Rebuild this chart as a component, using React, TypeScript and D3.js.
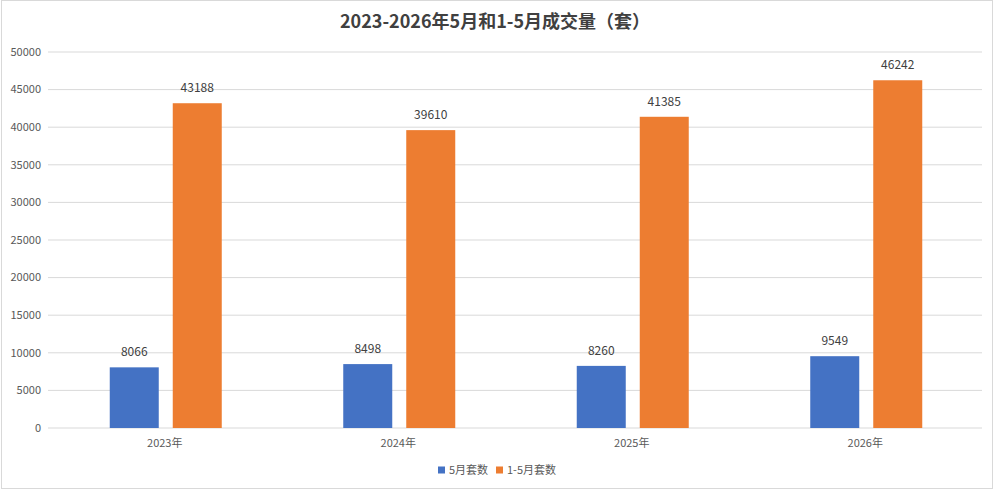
import { useEffect, useRef } from 'react';
import * as d3 from 'd3';

const categories = ['2023年', '2024年', '2025年', '2026年'];
const seriesNames = ['5月套数', '1-5月套数'];
const mayValues = [8066, 8498, 8260, 9549];
const janToMayValues = [43188, 39610, 41385, 46242];
const yTicks = [0, 5000, 10000, 15000, 20000, 25000, 30000, 35000, 40000, 45000, 50000];
const colors = ['#4472C4', '#ED7D31'];

const FONT = '"Noto Sans CJK SC", "Noto Sans", sans-serif';

export default function App() {
  const svgRef = useRef<SVGSVGElement>(null);

  useEffect(() => {
    document.body.style.margin = '0';
    const W = 997;
    const H = 491;
    const svg = d3.select(svgRef.current);
    svg.selectAll('*').remove();
    svg.attr('width', W).attr('height', H).attr('viewBox', `0 0 ${W} ${H}`);

    svg.append('rect').attr('width', W).attr('height', H).attr('fill', '#fff');
    // faint frame
    svg.append('rect')
      .attr('x', 1.5).attr('y', 0.5).attr('width', 991).attr('height', 488)
      .attr('fill', 'none').attr('stroke', '#d9d9d9');

    const left = 48;
    const right = 982;
    const top = 52;
    const bottom = 428;

    const x = d3.scaleBand<string>().domain(categories).range([left, right]);
    const y = d3.scaleLinear().domain([0, 50000]).range([bottom, top]);

    // grid
    svg.append('g')
      .selectAll('line')
      .data(yTicks)
      .join('line')
      .attr('x1', left).attr('x2', right)
      .attr('y1', d => y(d)).attr('y2', d => y(d))
      .attr('stroke', '#d9d9d9').attr('stroke-width', 1);

    // y labels
    svg.append('g')
      .selectAll('text')
      .data(yTicks)
      .join('text')
      .attr('x', 41)
      .attr('y', d => y(d))
      .attr('dy', '0.35em')
      .attr('text-anchor', 'end')
      .attr('font-family', FONT)
      .attr('font-size', 11)
      .attr('fill', '#595959')
      .text(d => String(d));

    const rows = categories.map((c, i) => ({ cat: c, values: [mayValues[i], janToMayValues[i]] }));

    const groups = svg.append('g')
      .selectAll('g')
      .data(rows)
      .join('g');

    groups.each(function (row) {
      const cx = (x(row.cat) ?? 0) + x.bandwidth() / 2 + 1;
      const sub = d3.scaleBand<string>()
        .domain(seriesNames)
        .range([cx - 56, cx + 56])
        .paddingInner(14 / 63);
      const g = d3.select(this);
      const items = seriesNames.map((s, k) => ({ s, v: row.values[k], color: colors[k] }));
      g.selectAll('rect')
        .data(items)
        .join('rect')
        .attr('x', d => sub(d.s) ?? 0)
        .attr('y', d => y(d.v))
        .attr('width', sub.bandwidth())
        .attr('height', d => bottom - y(d.v))
        .attr('fill', d => d.color);
      g.selectAll('text')
        .data(items)
        .join('text')
        .attr('x', d => (sub(d.s) ?? 0) + sub.bandwidth() / 2)
        .attr('y', d => y(d.v) - 11)
        .attr('text-anchor', 'middle')
        .attr('font-family', FONT)
        .attr('font-size', 12)
        .attr('fill', '#404040')
        .text(d => String(d.v));
    });

    // x labels
    svg.append('g')
      .selectAll('text')
      .data(categories)
      .join('text')
      .attr('x', d => (x(d) ?? 0) + x.bandwidth() / 2)
      .attr('y', 443)
      .attr('dy', '0.35em')
      .attr('text-anchor', 'middle')
      .attr('font-family', FONT)
      .attr('font-size', 11)
      .attr('fill', '#595959')
      .text(d => d);

    // title
    svg.append('text')
      .attr('x', 495)
      .attr('y', 22)
      .attr('dy', '0.35em')
      .attr('text-anchor', 'middle')
      .attr('font-family', FONT)
      .attr('font-weight', 'bold')
      .attr('font-size', 18)
      .attr('fill', '#404040')
      .text('2023-2026年5月和1-5月成交量（套）');

    // legend
    const legendX = [438, 496];
    const legend = svg.append('g')
      .selectAll('g')
      .data(seriesNames)
      .join('g')
      .attr('transform', (_, i) => `translate(${legendX[i]},470)`);
    legend.append('rect')
      .attr('x', 0).attr('y', -3.5).attr('width', 7).attr('height', 7)
      .attr('fill', (_, i) => colors[i]);
    legend.append('text')
      .attr('x', 11)
      .attr('y', 0)
      .attr('dy', '0.35em')
      .attr('font-family', FONT)
      .attr('font-size', 11)
      .attr('fill', '#595959')
      .text(d => d);
  }, []);

  return <svg ref={svgRef} style={{ display: 'block' }} />;
}
